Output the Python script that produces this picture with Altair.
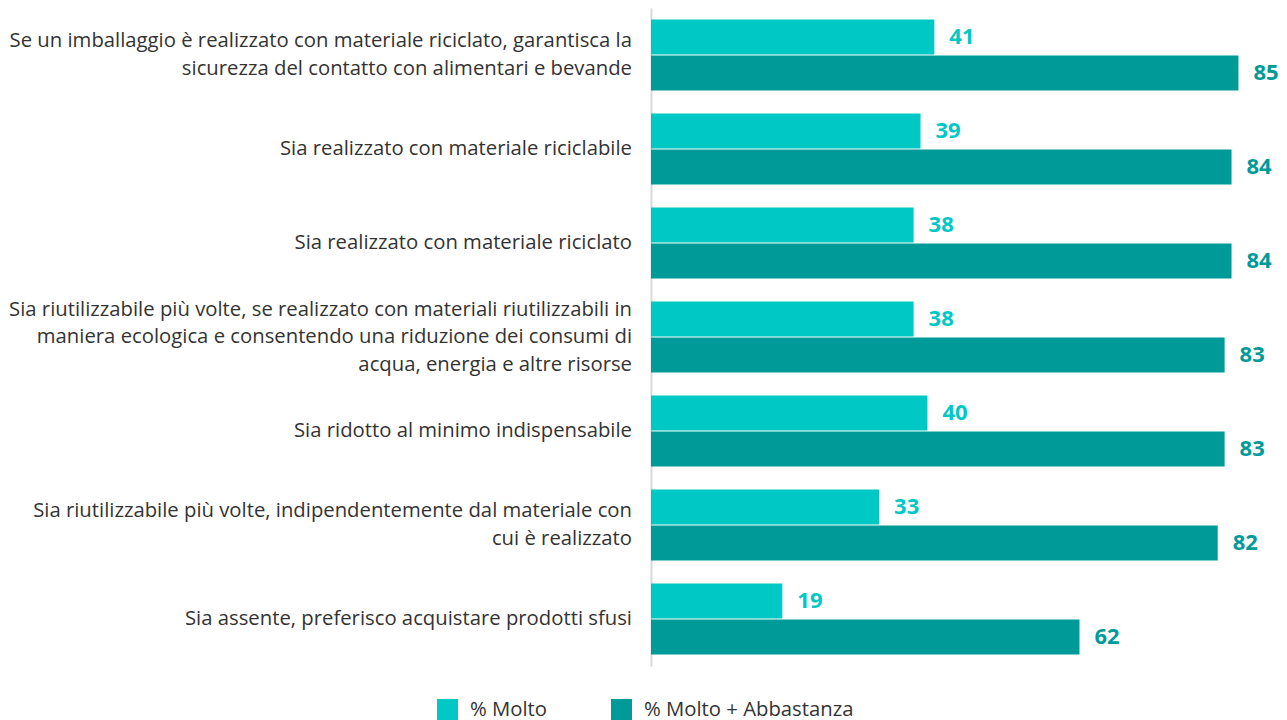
import altair as alt
import pandas as pd

categories = [
    "Se un imballaggio è realizzato con materiale riciclato, garantisca la|sicurezza del contatto con alimentari e bevande",
    "Sia realizzato con materiale riciclabile",
    "Sia realizzato con materiale riciclato",
    "Sia riutilizzabile più volte, se realizzato con materiali riutilizzabili in|maniera ecologica e consentendo una riduzione dei consumi di|acqua, energia e altre risorse",
    "Sia ridotto al minimo indispensabile",
    "Sia riutilizzabile più volte, indipendentemente dal materiale con|cui è realizzato",
    "Sia assente, preferisco acquistare prodotti sfusi ",
]
molto = [41, 39, 38, 38, 40, 33, 19]
molto_abbastanza = [85, 84, 84, 83, 83, 82, 62]
series = ["% Molto", "% Molto + Abbastanza"]
colors = ["#00C8C4", "#009B98"]

rows = []
for c, a, b in zip(categories, molto, molto_abbastanza):
    rows.append({"cat": c, "serie": series[0], "val": a})
    rows.append({"cat": c, "serie": series[1], "val": b})
df = pd.DataFrame(rows)
label_df = pd.DataFrame({"cat": categories, "n": [c.count("|") + 1 for c in categories]})

FONT = "Open Sans"
LH = 27.5
LEFT = 643

y_enc = alt.Y(
    "cat:N",
    sort=categories,
    scale=alt.Scale(paddingInner=0.245, paddingOuter=0.1225),
    axis=alt.Axis(
        title=None,
        labels=False,
        ticks=False,
        domainColor="#d9d9d9",
        domainWidth=2,
        grid=False,
    ),
)
x_enc = alt.X("val:Q", scale=alt.Scale(domain=[0, 90]), axis=None)
yoff = alt.YOffset("serie:N", sort=series, scale=alt.Scale(paddingInner=0.03))
color_scale = alt.Scale(domain=series, range=colors)

bars = alt.Chart(df).mark_bar().encode(
    y=y_enc,
    x=x_enc,
    yOffset=yoff,
    color=alt.Color(
        "serie:N",
        scale=color_scale,
        sort=series,
        legend=alt.Legend(
            title=None,
            orient="none",
            direction="horizontal",
            legendX=437 - 8 - LEFT,
            legendY=691,
            symbolType="square",
            symbolSize=441,
            symbolStrokeWidth=0,
            labelFont=FONT,
            labelFontSize=20.3,
            labelColor="#333333",
            labelOffset=12,
            labelLimit=400,
            columnPadding=63,
        ),
    ),
)

values = alt.Chart(df).mark_text(
    align="left", baseline="middle", dx=15, fontSize=22, fontWeight="bold", font=FONT
).encode(
    y=alt.Y("cat:N", sort=categories),
    x=alt.X("val:Q"),
    yOffset=yoff,
    text=alt.Text("val:Q"),
    color=alt.Color("serie:N", scale=color_scale, legend=None),
)

cat_layers = []
for n in (1, 2, 3):
    cat_layers.append(
        alt.Chart(label_df)
        .transform_filter(alt.datum.n == n)
        .mark_text(
            align="right",
            baseline="middle",
            lineBreak="|",
            lineHeight=LH,
            dy=-(n - 1) * LH / 2,
            fontSize=20.3,
            font=FONT,
            color="#333333",
        )
        .encode(
            y=alt.Y("cat:N", sort=categories),
            x=alt.value(632 - 8 - LEFT),
            text=alt.Text("cat:N"),
        )
    )

chart = (
    alt.layer(bars, values, *cat_layers)
    .properties(
        width=622,
        height=658,
        background="white",
        autosize=alt.AutoSizeParams(type="none"),
        padding={"left": LEFT, "top": 0, "right": 6, "bottom": 54},
    )
    .configure_view(strokeWidth=0, stroke=None)
)

chart.save("out.html", embed_options={"renderer": "svg", "actions": False})
